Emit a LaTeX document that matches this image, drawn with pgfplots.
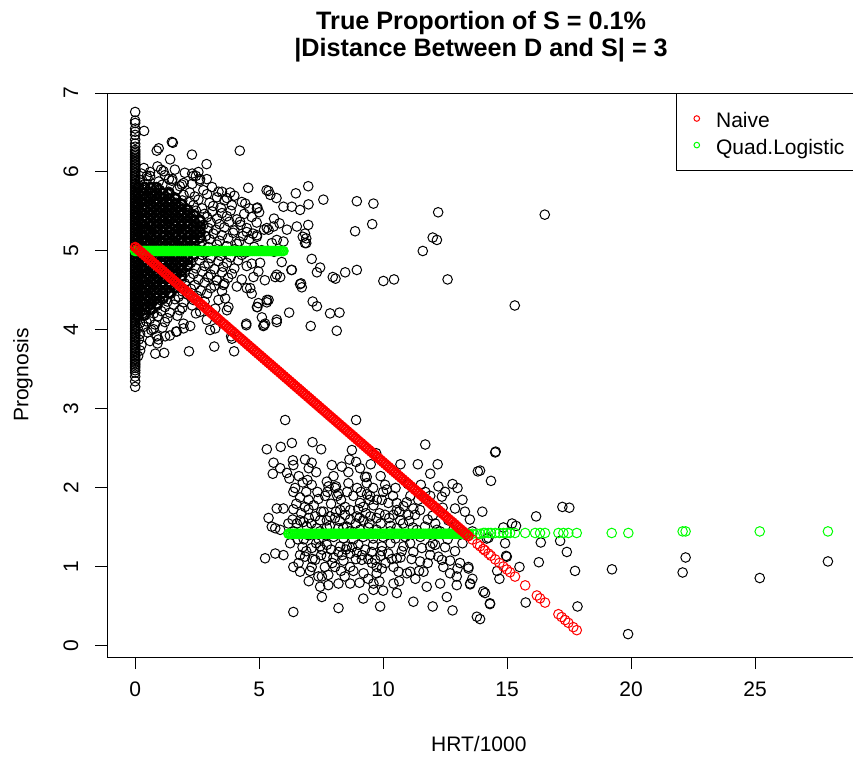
\documentclass[border=0pt]{standalone}
\usepackage{fontspec}
\setmainfont{Liberation Sans}
\usepackage{pgfplots}
\pgfplotsset{compat=1.18}
\definecolor{rred}{RGB}{255,0,0}
\definecolor{rgreen}{RGB}{0,255,0}
\begin{document}
\begin{tikzpicture}
\path[use as bounding box] (0,0) rectangle (426.5pt,-381pt);
\begin{axis}[
  at={(53.75pt,-328.5pt)}, anchor=south west,
  width=373.6pt, height=282pt, scale only axis,
  xmin=-1.116, xmax=29.02, ymin=-0.14, ymax=7.0,
  xtick={0,5,10,15,20,25}, ytick={0,1,2,3,4,5,6,7},
  tick align=outside, xtick pos=left, ytick pos=left,
  major tick length=6pt,
  tick style={black, line width=0.5pt},
  axis line style={black, line width=0.5pt},
  /pgf/number format/assume math mode=true,
  ticklabel style={font=\fontsize{10.5}{12}\selectfont},
  xticklabel style={anchor=center, yshift=-10pt},
  yticklabel style={anchor=center, xshift=-12.25pt, rotate=90},
  xlabel={HRT/1000}, ylabel={Prognosis},
  label style={font=\fontsize{10.5}{12}\selectfont},
  xlabel style={at={(axis description cs:0.497,-0.155)}, anchor=center},
  ylabel style={at={(axis description cs:-0.1131,0.5)}, anchor=center},
  title={True Proportion of S = 0.1\%\\|Distance Between D and S| = 3},
  title style={at={(axis description cs:0.5,1.078)}, anchor=center, align=center, font=\fontsize{12.6}{13.5}\selectfont\bfseries},
  legend style={at={(1,1)}, anchor=north east, draw=black, line width=0.5pt, fill=white,
    inner xsep=4.85pt, inner ysep=5.6pt, row sep=-0.5pt, column sep=8.25pt,
    nodes={inner sep=0pt, text height=11.6pt, text depth=2.2pt},
    font=\fontsize{10.5}{12}\selectfont},
  legend cell align=left,
  legend image code/.code={\path (0pt,0pt); \draw[#1] plot coordinates {(5.15pt,0pt)};},
  every axis plot/.append style={only marks, mark=o, mark size=2.4pt, line width=0.5pt},
]
% ---- black: column at HRT = 0
\addplot[black, forget plot] coordinates {
(0,6.76)(0,6.65)(0,6.62)(0,6.55)(0,6.51)(0,6.47)(0,6.41)(0,6.36)(0,6.32)(0,6.28)
(0,6.26)(0,6.24)(0,6.22)(0,6.20)(0,6.18)(0,6.16)(0,6.14)(0,6.12)(0,6.10)(0,6.08)
(0,6.06)(0,6.04)(0,6.02)(0,6.00)(0,5.98)(0,5.96)(0,5.94)(0,5.92)(0,5.90)(0,5.88)
(0,5.86)(0,5.84)(0,5.82)(0,5.80)(0,5.78)(0,5.76)(0,5.74)(0,5.72)(0,5.70)(0,5.68)
(0,5.66)(0,5.64)(0,5.62)(0,5.60)(0,5.58)(0,5.56)(0,5.54)(0,5.52)(0,5.50)(0,5.48)
(0,5.46)(0,5.44)(0,5.42)(0,5.40)(0,5.38)(0,5.36)(0,5.34)(0,5.32)(0,5.30)(0,5.28)
(0,5.26)(0,5.24)(0,5.22)(0,5.20)(0,5.18)(0,5.16)(0,5.14)(0,5.12)(0,5.10)(0,5.08)
(0,5.06)(0,5.04)(0,5.02)(0,5.00)(0,4.98)(0,4.96)(0,4.94)(0,4.92)(0,4.90)(0,4.88)
(0,4.86)(0,4.84)(0,4.82)(0,4.80)(0,4.78)(0,4.76)(0,4.74)(0,4.72)(0,4.70)(0,4.68)
(0,4.66)(0,4.64)(0,4.62)(0,4.60)(0,4.58)(0,4.56)(0,4.54)(0,4.52)(0,4.50)(0,4.48)
(0,4.46)(0,4.44)(0,4.42)(0,4.40)(0,4.38)(0,4.36)(0,4.34)(0,4.32)(0,4.30)(0,4.28)
(0,4.26)(0,4.24)(0,4.22)(0,4.20)(0,4.18)(0,4.16)(0,4.14)(0,4.12)(0,4.10)(0,4.08)
(0,4.06)(0,4.04)(0,4.02)(0,4.00)(0,3.98)(0,3.96)(0,3.94)(0,3.92)(0,3.90)(0,3.88)
(0,3.86)(0,3.84)(0,3.82)(0,3.80)(0,3.78)(0,3.76)(0,3.74)(0,3.72)(0,3.70)(0,3.68)
(0,3.66)(0,3.64)(0,3.62)(0,3.60)(0,3.58)(0,3.56)(0,3.54)(0,3.52)(0,3.49)(0,3.46)
(0,3.41)(0,3.35)(0,3.28)
};
% ---- black: dense upper cloud
\addplot[black, forget plot] coordinates {
(0.35,6.05)(0.9,6.07)(1.6,6.03)
(0.25,5.98)(0.6,6.00)(1.2,5.96)(2.0,5.99)
(0.2,5.90)(0.5,5.92)(0.95,5.88)(1.5,5.91)(2.6,5.89)
(0.15,5.83)(0.4,5.85)(0.75,5.81)(1.1,5.84)(1.8,5.82)(2.3,5.85)(3.1,5.81)
(0.2,5.76)(0.45,5.78)(0.7,5.74)(1.0,5.77)(1.35,5.75)(1.7,5.78)(2.2,5.74)(2.75,5.77)(3.5,5.75)
(0.12,5.70)(0.3,5.72)(0.55,5.68)(0.8,5.71)(1.05,5.69)(1.3,5.72)(1.6,5.68)(1.95,5.71)(2.4,5.69)(2.9,5.72)(3.3,5.68)(4.0,5.70)
(0.2,5.63)(0.4,5.65)(0.6,5.61)(0.85,5.64)(1.1,5.62)(1.4,5.65)(1.65,5.61)(1.9,5.64)(2.2,5.62)(2.55,5.65)(3.0,5.61)(3.6,5.64)(4.3,5.62)
(0.1,5.56)(0.3,5.58)(0.5,5.54)(0.7,5.57)(0.95,5.55)(1.2,5.58)(1.45,5.54)(1.75,5.57)(2.0,5.55)(2.35,5.58)(2.7,5.54)(3.15,5.57)(3.45,5.55)(3.9,5.58)(4.6,5.54)
(0.2,5.49)(0.4,5.51)(0.6,5.47)(0.85,5.50)(1.05,5.48)(1.3,5.51)(1.55,5.47)(1.8,5.50)(2.1,5.48)(2.45,5.51)(2.8,5.47)(3.1,5.50)(3.5,5.48)(3.85,5.51)(4.4,5.47)(5.0,5.49)
(0.1,5.42)(0.3,5.44)(0.5,5.40)(0.75,5.43)(0.95,5.41)(1.2,5.44)(1.45,5.40)(1.7,5.43)(1.95,5.41)(2.25,5.44)(2.6,5.40)(2.9,5.43)(3.3,5.41)(3.7,5.44)(4.1,5.40)(4.7,5.43)(5.6,5.41)
(0.2,5.35)(0.4,5.37)(0.65,5.33)(0.85,5.36)(1.1,5.34)(1.35,5.37)(1.6,5.33)(1.85,5.36)(2.15,5.34)(2.4,5.37)(2.75,5.33)(3.05,5.36)(3.4,5.34)(3.8,5.37)(4.25,5.33)(4.9,5.36)
(0.1,5.28)(0.3,5.30)(0.55,5.26)(0.8,5.29)(1.0,5.27)(1.25,5.30)(1.5,5.26)(1.75,5.29)(2.05,5.27)(2.3,5.30)(2.6,5.26)(2.95,5.29)(3.25,5.27)(3.6,5.30)(4.0,5.26)(4.5,5.29)(5.2,5.27)
(0.2,5.21)(0.45,5.23)(0.65,5.19)(0.9,5.22)(1.15,5.20)(1.4,5.23)(1.65,5.19)(1.9,5.22)(2.2,5.20)(2.5,5.23)(2.85,5.19)(3.15,5.22)(3.5,5.20)(3.95,5.23)(4.35,5.19)
(0.1,5.14)(0.35,5.16)(0.6,5.12)(0.8,5.15)(1.05,5.13)(1.3,5.16)(1.55,5.12)(1.8,5.15)(2.1,5.13)(2.4,5.16)(2.7,5.12)(3.0,5.15)(3.4,5.13)(3.75,5.16)(4.2,5.12)(4.6,5.15)
(0.2,5.07)(0.45,5.09)(0.7,5.05)(0.95,5.08)(1.2,5.06)(1.45,5.09)(1.7,5.05)(2.0,5.08)(2.3,5.06)(2.6,5.09)(2.95,5.05)(3.3,5.08)(3.7,5.06)(4.1,5.09)(4.8,5.05)
(0.15,5.00)(0.4,5.02)(0.6,4.98)(0.85,5.01)(1.1,4.99)(1.35,5.02)(1.6,4.98)(1.9,5.01)(2.2,4.99)(2.5,5.02)(2.85,4.98)(3.2,5.01)(3.6,4.99)(4.0,5.02)(4.45,4.98)(5.1,5.01)(5.6,4.99)
(0.2,4.93)(0.45,4.95)(0.7,4.91)(0.95,4.94)(1.2,4.92)(1.5,4.95)(1.75,4.91)(2.05,4.94)(2.35,4.92)(2.7,4.95)(3.05,4.91)(3.45,4.94)(3.85,4.92)(4.3,4.95)
(0.1,4.86)(0.35,4.88)(0.6,4.84)(0.85,4.87)(1.1,4.85)(1.35,4.88)(1.65,4.84)(1.95,4.87)(2.25,4.85)(2.6,4.88)(2.95,4.84)(3.35,4.87)(3.7,4.85)(4.15,4.88)(4.7,4.84)
(0.2,4.79)(0.45,4.81)(0.7,4.77)(0.95,4.80)(1.2,4.78)(1.5,4.81)(1.8,4.77)(2.1,4.80)(2.45,4.78)(2.8,4.81)(3.2,4.77)(3.55,4.80)(4.0,4.78)(4.5,4.81)
(0.1,4.72)(0.35,4.74)(0.6,4.70)(0.85,4.73)(1.1,4.71)(1.4,4.74)(1.7,4.70)(2.0,4.73)(2.35,4.71)(2.7,4.74)(3.05,4.70)(3.5,4.73)(3.9,4.71)
(0.2,4.65)(0.45,4.67)(0.7,4.63)(0.95,4.66)(1.25,4.64)(1.55,4.67)(1.85,4.63)(2.2,4.66)(2.55,4.64)(2.95,4.67)(3.3,4.63)(3.75,4.66)(4.3,4.64)
(0.1,4.58)(0.35,4.60)(0.6,4.56)(0.85,4.59)(1.1,4.57)(1.4,4.60)(1.7,4.56)(2.0,4.59)(2.4,4.57)(2.8,4.60)(3.2,4.56)(3.6,4.59)
(0.2,4.51)(0.45,4.53)(0.7,4.49)(0.95,4.52)(1.25,4.50)(1.55,4.53)(1.9,4.49)(2.25,4.52)(2.65,4.50)(3.05,4.53)(3.5,4.49)
(0.1,4.44)(0.35,4.46)(0.6,4.42)(0.85,4.45)(1.15,4.43)(1.45,4.46)(1.75,4.42)(2.1,4.45)(2.5,4.43)(2.9,4.46)
(0.2,4.37)(0.45,4.39)(0.7,4.35)(1.0,4.38)(1.3,4.36)(1.6,4.39)(1.95,4.35)(2.35,4.38)(2.8,4.36)
(0.1,4.30)(0.35,4.32)(0.6,4.28)(0.9,4.31)(1.2,4.29)(1.55,4.32)(1.9,4.28)(2.3,4.31)
(0.2,4.23)(0.45,4.25)(0.75,4.21)(1.05,4.24)(1.4,4.22)(1.8,4.25)(2.45,4.21)
(0.1,4.16)(0.35,4.18)(0.6,4.14)(0.9,4.17)(1.3,4.15)(1.7,4.18)
(0.2,4.09)(0.45,4.11)(0.8,4.07)(1.2,4.10)(1.95,4.08)
(0.1,4.02)(0.35,4.04)(0.65,4.00)(1.1,4.03)
(0.2,3.95)(0.5,3.97)(1.4,3.93)
(0.15,3.88)(0.6,3.86)(0.25,3.81)(0.9,3.83)(0.2,3.74)(0.12,3.67)
};
% ---- black: solid core of the upper cloud (many overlapping points)
\addplot[black, forget plot, line width=1.2pt] coordinates {
(0.12,5.80)(0.37,5.80)(0.62,5.80)(0.87,5.80)
(0.12,5.73)(0.37,5.73)(0.62,5.73)(0.87,5.73)(1.12,5.73)(1.37,5.73)
(0.12,5.66)(0.37,5.66)(0.62,5.66)(0.87,5.66)(1.12,5.66)(1.37,5.66)(1.62,5.66)
(0.12,5.59)(0.37,5.59)(0.62,5.59)(0.87,5.59)(1.12,5.59)(1.37,5.59)(1.62,5.59)(1.87,5.59)
(0.12,5.52)(0.37,5.52)(0.62,5.52)(0.87,5.52)(1.12,5.52)(1.37,5.52)(1.62,5.52)(1.87,5.52)(2.12,5.52)
(0.12,5.45)(0.37,5.45)(0.62,5.45)(0.87,5.45)(1.12,5.45)(1.37,5.45)(1.62,5.45)(1.87,5.45)(2.12,5.45)(2.37,5.45)
(0.12,5.38)(0.37,5.38)(0.62,5.38)(0.87,5.38)(1.12,5.38)(1.37,5.38)(1.62,5.38)(1.87,5.38)(2.12,5.38)(2.37,5.38)(2.62,5.38)
(0.12,5.31)(0.37,5.31)(0.62,5.31)(0.87,5.31)(1.12,5.31)(1.37,5.31)(1.62,5.31)(1.87,5.31)(2.12,5.31)(2.37,5.31)(2.62,5.31)
(0.12,5.24)(0.37,5.24)(0.62,5.24)(0.87,5.24)(1.12,5.24)(1.37,5.24)(1.62,5.24)(1.87,5.24)(2.12,5.24)(2.37,5.24)(2.62,5.24)
(0.12,5.17)(0.37,5.17)(0.62,5.17)(0.87,5.17)(1.12,5.17)(1.37,5.17)(1.62,5.17)(1.87,5.17)(2.12,5.17)(2.37,5.17)(2.62,5.17)
(0.12,5.10)(0.37,5.10)(0.62,5.10)(0.87,5.10)(1.12,5.10)(1.37,5.10)(1.62,5.10)(1.87,5.10)(2.12,5.10)(2.37,5.10)
(0.12,5.03)(0.37,5.03)(0.62,5.03)(0.87,5.03)(1.12,5.03)(1.37,5.03)(1.62,5.03)(1.87,5.03)(2.12,5.03)(2.37,5.03)
(0.12,4.96)(0.37,4.96)(0.62,4.96)(0.87,4.96)(1.12,4.96)(1.37,4.96)(1.62,4.96)(1.87,4.96)(2.12,4.96)(2.37,4.96)
(0.12,4.89)(0.37,4.89)(0.62,4.89)(0.87,4.89)(1.12,4.89)(1.37,4.89)(1.62,4.89)(1.87,4.89)(2.12,4.89)
(0.12,4.82)(0.37,4.82)(0.62,4.82)(0.87,4.82)(1.12,4.82)(1.37,4.82)(1.62,4.82)(1.87,4.82)(2.12,4.82)
(0.12,4.75)(0.37,4.75)(0.62,4.75)(0.87,4.75)(1.12,4.75)(1.37,4.75)(1.62,4.75)(1.87,4.75)
(0.12,4.68)(0.37,4.68)(0.62,4.68)(0.87,4.68)(1.12,4.68)(1.37,4.68)(1.62,4.68)(1.87,4.68)
(0.12,4.61)(0.37,4.61)(0.62,4.61)(0.87,4.61)(1.12,4.61)(1.37,4.61)(1.62,4.61)
(0.12,4.54)(0.37,4.54)(0.62,4.54)(0.87,4.54)(1.12,4.54)(1.37,4.54)(1.62,4.54)
(0.12,4.47)(0.37,4.47)(0.62,4.47)(0.87,4.47)(1.12,4.47)(1.37,4.47)
(0.12,4.40)(0.37,4.40)(0.62,4.40)(0.87,4.40)(1.12,4.40)
(0.12,4.33)(0.37,4.33)(0.62,4.33)(0.87,4.33)
(0.12,4.26)(0.37,4.26)(0.62,4.26)
(0.12,4.19)(0.37,4.19)
};
% ---- black: scattered upper points
\addplot[black, forget plot] coordinates {
(1.52,6.37)(0.87,6.27)(0.95,6.30)(2.29,6.22)(4.22,6.27)(1.41,6.16)(2.88,6.10)(0.36,6.52)(1.05,6.03)(1.36,5.91)
(2.30,5.98)(2.45,5.95)(2.55,6.00)(2.89,5.91)(0.47,5.95)(4.56,5.80)(5.30,5.77)(5.45,5.71)(5.70,5.67)(6.48,5.73)
(6.98,5.82)(7.59,5.65)(8.94,5.63)(9.61,5.60)(8.87,5.25)(9.56,5.34)(10.01,4.62)(10.44,4.64)(6.98,5.33)(6.90,5.16)
(6.90,5.10)(7.12,4.90)(7.46,4.79)(7.33,4.73)(7.97,4.67)(8.08,4.65)(8.47,4.73)(8.94,4.76)(6.65,4.58)(6.72,4.54)
(7.16,4.36)(7.33,4.30)(7.86,4.21)(8.24,4.22)(8.13,3.99)(7.08,4.05)(6.21,4.22)(5.98,5.56)(6.32,5.56)(6.65,5.52)
(6.99,5.59)(5.91,4.86)(6.32,4.76)(5.71,4.13)(5.17,4.05)(4.48,4.06)(3.90,3.89)(3.99,3.73)(3.19,3.79)(2.17,3.73)
(0.87,3.92)(1.17,3.71)(0.81,3.70)(1.65,3.98)(2.22,4.05)(12.22,5.49)(16.52,5.46)(11.60,5.00)(12.00,5.17)(12.17,5.14)
(12.60,4.64)(15.31,4.31)(5.71,4.70)(5.85,4.67)(5.23,4.63)(4.93,4.29)(5.11,4.16)(5.20,4.06)(5.71,4.10)(5.38,4.38)
(5.31,4.35)(4.93,5.55)(5.38,5.76)(4.91,5.18)(5.38,5.27)(5.58,5.31)(5.82,5.35)(6.12,5.27)(6.52,5.31)(6.85,5.22)
(6.76,5.18)(6.85,5.10)(5.98,5.12)(5.71,5.14)(5.51,5.10)(4.75,5.22)(5.04,4.85)(4.97,4.74)(5.65,4.67)(4.64,4.53)
(4.70,4.46)(6.69,4.59)(6.30,4.76)(0.74,4.01)(0.94,3.88)(1.21,3.92)(1.68,3.98)(1.95,4.02)(3.02,4.00)(3.23,4.02)
(3.87,3.92)(4.48,4.08)(4.91,4.29)(5.24,4.08)(2.62,4.23)(2.89,4.13)(3.29,4.15)(3.70,4.25)(3.76,4.29)(3.23,4.27)
(3.36,4.38)(3.63,4.40)(3.29,4.63)(3.56,4.57)(4.10,4.55)(4.50,4.53)(4.77,4.67)(4.97,4.34)(5.31,4.38)(1.48,6.38)
(1.14,6.01)(0.60,5.95)(1.48,5.89)(2.35,5.95)(2.62,5.91)(3.36,5.75)(3.83,5.74)(3.70,5.67)(1.88,5.84)(1.95,5.86)
(4.44,5.60)(4.91,5.54)(4.23,5.37)(4.50,5.24)(4.91,5.20)(5.31,5.29)
};
% ---- black: lower cluster
\addplot[black, forget plot] coordinates {
(6.05,2.86)(8.91,2.86)(5.31,2.49)(5.87,2.52)(6.32,2.57)(7.15,2.58)(7.50,2.49)(5.58,2.32)(5.55,2.18)(5.85,2.25)
(6.12,2.19)(6.22,2.12)(6.36,2.35)(6.38,2.29)(6.85,2.36)(7.12,2.32)(7.93,2.29)(8.33,2.27)(8.64,2.36)(8.91,2.33)
(8.74,2.48)(9.07,2.25)(9.34,2.14)(9.72,2.44)(10.08,2.04)(11.90,2.18)(11.52,2.04)(12.23,2.02)(12.50,1.95)(12.37,1.89)
(13.82,2.21)(14.35,2.09)(14.52,2.45)(13.91,2.22)
(6.76,2.07)(7.12,2.04)(7.73,2.08)(8.10,2.02)(8.60,2.06)(9.34,2.06)(9.27,2.14)(6.38,1.95)(6.65,1.88)(6.99,1.85)
(7.39,1.86)(7.66,1.90)(8.06,2.00)(8.20,1.93)(7.80,2.02)(9.48,1.90)(9.45,1.85)(9.07,1.81)(8.67,1.72)(8.47,1.76)
(8.27,1.72)(9.00,1.73)(9.20,1.76)(9.61,1.78)(9.95,1.85)(10.21,1.81)(10.55,1.81)(10.82,1.77)(11.22,1.74)(11.42,1.85)
(11.29,1.66)(11.49,1.72)
(5.71,1.74)(5.98,1.74)(6.38,1.73)(6.85,1.76)(6.99,1.73)(7.26,1.64)(7.46,1.59)(7.73,1.59)(7.86,1.64)(8.06,1.62)
(8.47,1.66)(8.67,1.60)(8.94,1.64)(9.20,1.59)(9.48,1.64)(9.74,1.62)(10.08,1.66)(10.42,1.66)(10.69,1.59)(11.02,1.66)
(5.38,1.62)(5.51,1.51)(5.65,1.49)(5.85,1.47)(6.65,1.59)(6.79,1.57)(6.52,1.55)(6.18,1.55)
(6.92,1.51)(7.33,1.49)(7.73,1.50)(8.20,1.49)(8.54,1.51)(9.07,1.47)(9.41,1.50)(9.74,1.47)(10.28,1.45)(10.55,1.49)
(11.36,1.47)(11.69,1.51)(12.17,1.47)(12.83,1.47)(12.90,1.74)(12.63,1.59)
(6.25,1.30)(6.65,1.15)(6.85,1.13)(6.59,1.05)(6.65,0.94)(7.12,1.24)(7.46,1.26)(7.73,1.28)(7.26,1.09)(7.73,1.13)
(8.27,1.26)(8.20,1.19)(8.67,1.17)(8.54,1.26)(8.94,1.19)(9.14,1.09)(9.27,1.22)(9.54,1.19)(9.68,1.09)(9.74,1.00)
(9.95,0.98)(9.74,0.92)(9.95,1.26)(10.21,1.17)(10.42,1.00)(10.55,1.11)(10.82,1.26)(11.09,1.30)(11.22,1.19)(11.56,1.24)
(11.90,1.26)(12.10,1.28)(11.49,1.07)(11.63,0.94)(12.23,1.13)(12.37,1.09)(12.43,1.00)(12.70,0.92)(12.97,0.88)(13.44,1.00)
(5.24,1.11)(5.65,1.17)(5.98,1.15)(6.38,1.00)(7.12,1.00)(7.53,0.88)(7.79,0.90)(8.67,1.00)(8.06,1.00)(9.21,0.92)
(10.62,0.94)(10.96,0.92)(11.09,0.94)(11.76,0.75)(12.30,0.79)(12.97,0.77)(13.51,0.79)(14.04,0.69)(14.31,0.54)(13.78,0.37)
(12.57,0.62)(10.42,0.79)(10.55,0.67)(11.22,0.56)(9.61,0.79)(9.61,0.71)(8.67,0.79)(8.20,0.79)(7.79,0.77)(7.53,0.62)
(7.39,0.88)(6.38,0.43)(8.20,0.48)(9.88,0.50)(7.46,0.75)
(14.54,2.46)(14.25,1.37)(14.92,1.30)(16.36,1.31)(17.14,1.33)(14.99,1.13)(17.41,1.19)(16.28,1.06)(17.74,0.95)(19.23,0.97)
(22.20,1.12)(22.08,0.93)(25.19,0.86)(27.94,1.07)(14.69,0.85)(14.11,0.67)(14.31,0.53)(15.75,0.55)(17.84,0.50)(19.88,0.15)
(13.91,0.34)(17.23,1.76)(17.51,1.75)(16.17,1.64)(15.36,1.52)(14.85,1.50)(14.96,1.14)(13.44,0.98)(13.51,0.78)(14.18,1.36)
(6.5,1.80)(6.9,1.95)(7.2,1.78)(7.5,1.70)(7.9,1.80)(8.3,1.85)(8.8,1.90)(9.1,1.95)(9.6,2.00)(10.0,1.95)
(10.4,1.90)(6.4,1.45)(6.8,1.35)(7.0,1.40)(7.4,1.35)(7.7,1.40)(8.0,1.38)(8.4,1.36)(8.8,1.35)(9.2,1.38)
(9.6,1.36)(10.0,1.38)(10.5,1.36)(10.9,1.38)(7.0,1.62)(7.6,1.70)(8.1,1.70)(8.4,1.50)(8.9,1.55)(9.3,1.68)
(9.9,1.55)(10.3,1.52)(10.8,1.55)(11.2,1.50)(6.9,1.20)(7.5,1.15)(8.0,1.12)(8.4,1.08)(8.9,1.10)(9.4,1.10)
(9.9,1.14)(10.3,1.30)(10.7,1.12)(7.3,1.30)(7.9,1.22)(8.5,1.22)(9.0,1.28)(9.6,1.28)(10.1,1.05)(8.8,0.95)
(9.4,0.85)(8.3,0.95)(7.0,0.82)(7.3,2.20)(8.0,2.15)(8.6,2.20)(9.5,2.30)(9.9,2.15)(10.5,2.00)(11.0,2.05)
(11.1,1.90)(11.7,1.95)(6.6,2.15)(7.0,2.25)(12.0,1.65)(12.4,1.75)(11.8,1.60)(12.3,1.45)(11.5,1.38)(12.0,1.30)
(12.5,1.25)(12.9,1.20)(13.2,1.30)(13.5,1.60)(13.1,1.05)(11.8,1.05)(11.3,0.85)(10.0,0.70)(9.2,0.60)(12.0,0.50)
(12.8,0.45)(13.6,0.85)(13.3,1.70)(13.0,2.00)(13.6,1.45)(14.0,1.70)(10.7,2.30)(11.4,2.30)(12.2,2.30)(11.7,2.55)
(12.8,2.05)(13.2,1.85)(14.6,0.95)(15.2,1.55)(15.5,1.00)
(6.7,1.68)(7.1,1.55)(7.45,1.45)(7.85,1.52)(8.25,1.58)(8.65,1.45)(9.05,1.62)(9.45,1.55)(9.85,1.68)(10.25,1.62)
(10.65,1.70)(11.05,1.58)(6.75,1.25)(7.15,1.10)(7.55,1.22)(7.95,1.05)(8.35,1.15)(8.75,1.25)(9.15,1.15)(9.55,1.05)
(9.95,1.20)(10.35,1.10)(10.75,1.20)(11.15,1.10)(6.95,2.10)(7.35,1.95)(7.75,1.95)(8.15,1.90)(8.55,1.95)(8.95,2.00)
(9.35,1.92)(9.75,1.85)(10.15,1.98)(10.55,1.72)(10.95,1.82)(7.05,0.95)(7.65,1.00)(8.45,0.88)(9.05,0.80)(9.85,0.82)
(10.65,0.82)(11.45,0.95)(6.35,1.60)(6.55,1.35)(6.45,2.00)(11.9,1.90)(12.1,1.55)(12.6,1.35)(11.9,1.15)(12.7,1.08)
(13.0,0.98)
};
% ---- green: Quad.Logistic fitted values (dense part)
\addplot[rgreen, forget plot, mark size=2.2pt, line width=0.9pt] coordinates {
(0,5)(0.08,5)(0.16,5)(0.24,5)(0.32,5)(0.40,5)(0.48,5)(0.56,5)(0.64,5)(0.72,5)(0.80,5)(0.88,5)(0.96,5)(1.04,5)(1.12,5)
(1.20,5)(1.28,5)(1.36,5)(1.44,5)(1.52,5)(1.60,5)(1.68,5)(1.76,5)(1.84,5)(1.92,5)(2.00,5)(2.08,5)(2.16,5)(2.24,5)(2.32,5)
(2.40,5)(2.48,5)(2.56,5)(2.64,5)(2.72,5)(2.80,5)(2.88,5)(2.96,5)(3.04,5)(3.12,5)(3.20,5)(3.28,5)(3.36,5)(3.44,5)(3.52,5)
(3.60,5)(3.68,5)(3.76,5)(3.84,5)(3.92,5)(4.00,5)(4.08,5)(4.16,5)(4.24,5)(4.32,5)(4.40,5)(4.48,5)(4.56,5)(4.64,5)(4.72,5)
(4.80,5)(4.88,5)(4.96,5)(5.04,5)(5.12,5)(5.20,5)(5.28,5)(5.36,5)(5.44,5)(5.52,5)(5.60,5)(5.68,5)(5.76,5)(5.84,5)(5.92,5)(5.98,5)
(6.18,1.42)(6.26,1.42)(6.34,1.42)(6.42,1.42)(6.50,1.42)(6.58,1.42)(6.66,1.42)(6.74,1.42)(6.82,1.42)(6.90,1.42)
(6.98,1.42)(7.06,1.42)(7.14,1.42)(7.22,1.42)(7.30,1.42)(7.38,1.42)(7.46,1.42)(7.54,1.42)(7.62,1.42)(7.70,1.42)
(7.78,1.42)(7.86,1.42)(7.94,1.42)(8.02,1.42)(8.10,1.42)(8.18,1.42)(8.26,1.42)(8.34,1.42)(8.42,1.42)(8.50,1.42)
(8.58,1.42)(8.66,1.42)(8.74,1.42)(8.82,1.42)(8.90,1.42)(8.98,1.42)(9.06,1.42)(9.14,1.42)(9.22,1.42)(9.30,1.42)
(9.38,1.42)(9.46,1.42)(9.54,1.42)(9.62,1.42)(9.70,1.42)(9.78,1.42)(9.86,1.42)(9.94,1.42)(10.02,1.42)(10.10,1.42)
(10.18,1.42)(10.26,1.42)(10.34,1.42)(10.42,1.42)(10.50,1.42)(10.58,1.42)(10.66,1.42)(10.74,1.42)(10.82,1.42)(10.90,1.42)
(10.98,1.42)(11.06,1.42)(11.14,1.42)(11.22,1.42)(11.30,1.42)(11.38,1.42)(11.46,1.42)(11.54,1.42)(11.62,1.42)(11.70,1.42)
(11.78,1.42)(11.86,1.42)(11.94,1.42)(12.02,1.42)(12.10,1.42)(12.18,1.42)(12.26,1.42)(12.34,1.42)(12.42,1.42)(12.50,1.42)
(12.58,1.42)(12.66,1.42)(12.74,1.42)(12.82,1.42)(12.90,1.42)(12.98,1.42)(13.06,1.42)(13.14,1.42)(13.22,1.42)(13.30,1.42)
(13.38,1.42)(13.46,1.42)
};
% ---- green: Quad.Logistic fitted values (sparse part)
\addplot[rgreen, forget plot] coordinates {
(13.6,1.42)(13.8,1.42)(13.91,1.42)(14.04,1.43)(14.11,1.43)(14.25,1.43)(14.35,1.43)(14.52,1.43)(14.69,1.43)(14.85,1.43)
(14.99,1.43)(15.12,1.43)(15.32,1.43)(15.73,1.43)(16.13,1.43)(16.33,1.43)(16.53,1.43)(17.07,1.43)(17.27,1.43)(17.47,1.43)
(17.81,1.43)(19.22,1.43)(19.89,1.43)(22.08,1.45)(22.2,1.45)(25.19,1.45)(27.94,1.45)
};
% ---- red: Naive fitted values (dense part)
\addplot[rred, forget plot, mark size=2.2pt, line width=0.9pt] coordinates {
(0.00,5.050)(0.08,5.028)(0.16,5.006)(0.24,4.985)(0.32,4.963)(0.40,4.941)(0.48,4.919)(0.56,4.898)(0.64,4.876)(0.72,4.854)
(0.80,4.832)(0.88,4.810)(0.96,4.789)(1.04,4.767)(1.12,4.745)(1.20,4.723)(1.28,4.701)(1.36,4.680)(1.44,4.658)(1.52,4.636)
(1.60,4.614)(1.68,4.593)(1.76,4.571)(1.84,4.549)(1.92,4.527)(2.00,4.505)(2.08,4.484)(2.16,4.462)(2.24,4.440)(2.32,4.418)
(2.40,4.396)(2.48,4.375)(2.56,4.353)(2.64,4.331)(2.72,4.309)(2.80,4.288)(2.88,4.266)(2.96,4.244)(3.04,4.222)(3.12,4.200)
(3.20,4.179)(3.28,4.157)(3.36,4.135)(3.44,4.113)(3.52,4.091)(3.60,4.070)(3.68,4.048)(3.76,4.026)(3.84,4.004)(3.92,3.983)
(4.00,3.961)(4.08,3.939)(4.16,3.917)(4.24,3.895)(4.32,3.874)(4.40,3.852)(4.48,3.830)(4.56,3.808)(4.64,3.786)(4.72,3.765)
(4.80,3.743)(4.88,3.721)(4.96,3.699)(5.04,3.678)(5.12,3.656)(5.20,3.634)(5.28,3.612)(5.36,3.590)(5.44,3.569)(5.52,3.547)
(5.60,3.525)(5.68,3.503)(5.76,3.482)(5.84,3.460)(5.92,3.438)(6.00,3.416)(6.08,3.394)(6.16,3.373)(6.24,3.351)(6.32,3.329)
(6.40,3.307)(6.48,3.285)(6.56,3.264)(6.64,3.242)(6.72,3.220)(6.80,3.198)(6.88,3.177)(6.96,3.155)(7.04,3.133)(7.12,3.111)
(7.20,3.089)(7.28,3.068)(7.36,3.046)(7.44,3.024)(7.52,3.002)(7.60,2.981)(7.68,2.959)(7.76,2.937)(7.84,2.915)(7.92,2.893)
(8.00,2.872)(8.08,2.850)(8.16,2.828)(8.24,2.806)(8.32,2.784)(8.40,2.763)(8.48,2.741)(8.56,2.719)(8.64,2.697)(8.72,2.676)
(8.80,2.654)(8.88,2.632)(8.96,2.610)(9.04,2.588)(9.12,2.567)(9.20,2.545)(9.28,2.523)(9.36,2.501)(9.44,2.480)(9.52,2.458)
(9.60,2.436)(9.68,2.414)(9.76,2.392)(9.84,2.371)(9.92,2.349)(10.00,2.327)(10.08,2.305)(10.16,2.283)(10.24,2.262)(10.32,2.240)
(10.40,2.218)(10.48,2.196)(10.56,2.175)(10.64,2.153)(10.72,2.131)(10.80,2.109)(10.88,2.087)(10.96,2.066)(11.04,2.044)
(11.12,2.022)(11.20,2.000)(11.28,1.978)(11.36,1.957)(11.44,1.935)(11.52,1.913)(11.60,1.891)(11.68,1.870)(11.76,1.848)
(11.84,1.826)(11.92,1.804)(12.00,1.782)(12.08,1.761)(12.16,1.739)(12.24,1.717)(12.32,1.695)(12.40,1.674)(12.48,1.652)
(12.56,1.630)(12.64,1.608)(12.72,1.586)(12.80,1.565)(12.88,1.543)(12.96,1.521)(13.04,1.499)(13.12,1.477)(13.20,1.456)
(13.28,1.434)(13.36,1.412)(13.44,1.390)
};
% ---- red: Naive fitted values (sparse part)
\addplot[rred, forget plot] coordinates {
(13.6,1.347)(13.8,1.292)(13.91,1.262)(14.04,1.227)(14.11,1.208)(14.25,1.170)(14.35,1.142)(14.52,1.096)(14.69,1.050)(14.85,1.006)
(14.99,0.968)(15.12,0.933)(15.32,0.878)(15.73,0.767)(16.2,0.639)(16.33,0.603)(16.53,0.549)(17.07,0.402)(17.2,0.366)(17.34,0.328)
(17.47,0.293)(17.67,0.238)(17.81,0.200)
};
\addlegendimage{only marks, mark=o, rred, mark size=1.4pt, line width=0.5pt}
\addlegendentry{Naive}
\addlegendimage{only marks, mark=o, rgreen, mark size=1.4pt, line width=0.5pt}
\addlegendentry{Quad.Logistic}
\end{axis}
\end{tikzpicture}
\end{document}
